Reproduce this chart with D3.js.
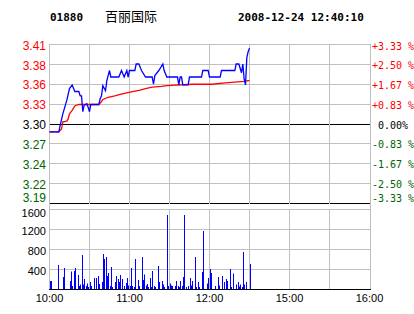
<!DOCTYPE html>
<html>
<head>
<meta charset="utf-8">
<script src="https://cdn.jsdelivr.net/npm/d3@7"></script>
<style>
  html, body { margin: 0; padding: 0; background: #fff; }
  svg { display: block; }
</style>
</head>
<body>
<div id="chart"></div>
<script>
// header
const stockCode = '01880';
const stockName = '百丽国际';
const stamp = '2008-12-24 12:40:10';

// axes
const prevClose = 3.30;
const priceHigh = 3.41;
const priceLow = 3.19;
const priceLabels = ['3.41', '3.38', '3.36', '3.33', '3.30', '3.27', '3.24', '3.22', '3.19'];
const pctLabels = ['+3.33 %', '+2.50 %', '+1.67 %', '+0.83 %', ' 0.00%', '-0.83 %', '-1.67 %', '-2.50 %', '-3.33 %'];
const volTicks = [1600, 1200, 800, 400];
const volMax = 1600;
const timeLabels = ['10:00', '11:00', '12:00', '15:00', '16:00'];

// price (blue)
const priceTimes = ['10:00', '10:07', '10:08', '10:10', '10:13', '10:15', '10:17', '10:19', '10:22', '10:23',
  '10:24', '10:25', '10:26', '10:28', '10:29', '10:30', '10:31', '10:37', '10:38', '10:39',
  '10:40', '10:42', '10:43', '10:45', '10:46', '10:52', '10:54', '10:56', '10:58', '10:59',
  '11:00', '11:04', '11:05', '11:07', '11:09', '11:12', '11:17', '11:18', '11:19', '11:22',
  '11:25', '11:26', '11:28', '11:36', '11:37', '11:38', '11:39', '11:40', '11:44', '11:45',
  '11:54', '11:55', '11:59', '12:00', '12:08', '12:09', '12:19', '12:20', '12:22', '12:24',
  '12:25', '12:26', '12:27', '12:28', '12:29', '12:30'];
const priceValues = [3.289, 3.289, 3.298, 3.314, 3.333, 3.349, 3.354, 3.345, 3.345, 3.339,
  3.339, 3.317, 3.326, 3.328, 3.323, 3.317, 3.327, 3.327, 3.335, 3.339,
  3.353, 3.346, 3.360, 3.374, 3.365, 3.365, 3.374, 3.365, 3.374, 3.365,
  3.374, 3.374, 3.383, 3.383, 3.374, 3.365, 3.365, 3.355, 3.367, 3.374,
  3.383, 3.374, 3.365, 3.365, 3.354, 3.365, 3.365, 3.354, 3.354, 3.365,
  3.365, 3.374, 3.374, 3.365, 3.365, 3.374, 3.374, 3.383, 3.383, 3.371,
  3.383, 3.362, 3.354, 3.392, 3.400, 3.405];

// average price (red)
const avgTimes = ['10:00', '10:07', '10:09', '10:10', '10:13', '10:14', '10:15', '10:17', '10:19', '10:22',
  '10:37', '10:39', '10:40', '10:44', '10:49', '10:53', '10:58', '11:03', '11:08', '11:12',
  '11:17', '11:24', '11:28', '11:47', '12:02', '12:12', '12:26', '12:29', '12:30'];
const avgValues = [3.289, 3.289, 3.293, 3.303, 3.304, 3.307, 3.314, 3.319, 3.325, 3.327,
  3.327, 3.331, 3.334, 3.337, 3.339, 3.341, 3.343, 3.345, 3.347, 3.349,
  3.351, 3.352, 3.353, 3.355, 3.355, 3.357, 3.359, 3.360, 3.360];

// volume
const volTimes = ['10:00', '10:01', '10:06', '10:10', '10:11', '10:15', '10:16', '10:17', '10:18', '10:19',
  '10:21', '10:22', '10:23', '10:24', '10:25', '10:26', '10:27', '10:28', '10:29', '10:30',
  '10:31', '10:33', '10:35', '10:36', '10:37', '10:39', '10:40', '10:41', '10:42', '10:43',
  '10:44', '10:45', '10:46', '10:47', '10:49', '10:50', '10:51', '10:52', '10:53', '10:54',
  '10:56', '10:57', '10:58', '10:59', '11:00', '11:01', '11:02', '11:03', '11:04', '11:06',
  '11:07', '11:09', '11:10', '11:11', '11:12', '11:13', '11:14', '11:15', '11:16', '11:17',
  '11:18', '11:19', '11:21', '11:22', '11:24', '11:25', '11:26', '11:28', '11:29', '11:30',
  '11:31', '11:32', '11:34', '11:35', '11:36', '11:37', '11:38', '11:39', '11:40', '11:41',
  '11:42', '11:44', '11:45', '11:46', '11:47', '11:49', '11:50', '11:51', '11:52', '11:54',
  '11:55', '11:58', '11:59', '12:00', '12:01', '12:04', '12:06', '12:07', '12:09', '12:11',
  '12:12', '12:13', '12:15', '12:16', '12:18', '12:20', '12:21', '12:22', '12:23', '12:24',
  '12:25', '12:26', '12:27', '12:30'];
const volValues = [170, 170, 490, 250, 430, 170, 360, 70, 370, 430,
  290, 70, 100, 690, 100, 210, 70, 120, 50, 150,
  70, 230, 230, 270, 110, 150, 710, 610, 650, 270,
  330, 70, 450, 50, 150, 270, 210, 150, 290, 210,
  70, 130, 230, 80, 70, 430, 70, 50, 610, 190,
  70, 650, 190, 300, 80, 110, 50, 230, 50, 370,
  70, 50, 470, 150, 170, 100, 50, 1490, 70, 120,
  80, 70, 70, 170, 70, 50, 170, 70, 250, 1490,
  50, 70, 230, 80, 170, 650, 50, 150, 50, 350,
  1170, 120, 230, 410, 330, 70, 250, 80, 270, 150,
  210, 170, 410, 50, 320, 100, 150, 60, 100, 50,
  750, 100, 150, 510];

const W = 414, H = 314;
const gridColor = '#c0c0c0';
const upColor = '#ff0000';
const downColor = '#006400';

// trading minutes: 10:00-12:30 and 14:30-16:00
function sessionMin(t) {
	const [h, m] = t.split(':').map(Number);
	const v = h * 60 + m - 600;
	return v > 150 ? v - 120 : v;
}

const svg = d3.select('#chart').append('svg')
	.attr('width', W)
	.attr('height', H)
	.style('background', '#fff');

const x = d3.scaleLinear().domain([0, 240]).range([49.5, 369.5]);
const yP = d3.scaleLinear().domain([priceLow, priceHigh]).range([203.5, 44.5]);
const yV = d3.scaleLinear().domain([0, volMax]).range([289.5, 209.5]);
const crisp = v => Math.floor(v) + 0.5;

// header
const head = svg.append('g');
head.append('text').attr('x', 50).attr('y', 21)
	.attr('font-family', 'DejaVu Sans Mono').attr('font-weight', 'bold').attr('font-size', 11)
	.text(stockCode);
head.append('text').attr('x', 105).attr('y', 21)
	.attr('font-family', '"Noto Sans CJK SC"').attr('font-size', 13)
	.text(stockName);
head.append('text').attr('x', 238).attr('y', 21)
	.attr('font-family', 'DejaVu Sans Mono').attr('font-weight', 'bold').attr('font-size', 11)
	.text(stamp);

// price grid
const levels = d3.range(priceLabels.length).map(i => priceHigh - i * (priceHigh - priceLow) / (priceLabels.length - 1));
const grid = svg.append('g');
grid.selectAll('line.hp')
	.data(levels)
	.join('line')
	.attr('class', 'hp')
	.attr('x1', 49).attr('x2', 371)
	.attr('y1', d => crisp(yP(d))).attr('y2', d => crisp(yP(d)))
	.attr('stroke', (d, i) => (i === 4 || i === levels.length - 1) ? '#000' : gridColor)
	.attr('stroke-width', 1);

// volume grid
grid.selectAll('line.hv')
	.data(volTicks)
	.join('line')
	.attr('class', 'hv')
	.attr('x1', 49).attr('x2', 371)
	.attr('y1', d => crisp(yV(d))).attr('y2', d => crisp(yV(d)))
	.attr('stroke', gridColor);

// vertical grid, both panels
const vMins = d3.range(30, 240, 30);
[[44, 204], [209, 289]].forEach(([a, b]) => {
	grid.append('g').selectAll('line')
		.data(vMins)
		.join('line')
		.attr('x1', d => crisp(x(d))).attr('x2', d => crisp(x(d)))
		.attr('y1', a).attr('y2', b)
		.attr('stroke', gridColor);
});

// frame
grid.append('line').attr('x1', 49.5).attr('x2', 49.5).attr('y1', 44).attr('y2', 289).attr('stroke', gridColor);
grid.append('line').attr('x1', 370.5).attr('x2', 370.5).attr('y1', 44).attr('y2', 289).attr('stroke', gridColor);
grid.append('line').attr('x1', 49).attr('x2', 371).attr('y1', crisp(yV(0))).attr('y2', crisp(yV(0))).attr('stroke', '#000');

// price labels
const labelColor = i => i < 4 ? upColor : (i === 4 ? '#000' : downColor);
const labelY = d => Math.max(46, Math.min(198, yP(d) + 1));
svg.append('g').selectAll('text')
	.data(levels)
	.join('text')
	.attr('x', 46)
	.attr('y', labelY)
	.attr('dy', '0.35em')
	.attr('text-anchor', 'end')
	.attr('font-family', '"Liberation Sans", Arial, sans-serif')
	.attr('font-size', 12)
	.attr('fill', (d, i) => labelColor(i))
	.text((d, i) => priceLabels[i]);

svg.append('g').selectAll('text')
	.data(levels)
	.join('text')
	.attr('x', 372)
	.attr('y', labelY)
	.attr('dy', '0.35em')
	.style('white-space', 'pre')
	.attr('font-family', '"DejaVu Sans Mono", monospace')
	.attr('font-size', 10)
	.attr('fill', (d, i) => labelColor(i))
	.text((d, i) => pctLabels[i]);

// volume labels
svg.append('g').selectAll('text')
	.data(volTicks)
	.join('text')
	.attr('x', 46)
	.attr('y', d => Math.max(213, yV(d) + 2))
	.attr('dy', '0.35em')
	.attr('text-anchor', 'end')
	.attr('font-family', '"Liberation Sans", Arial, sans-serif')
	.attr('font-size', 11)
	.attr('fill', '#000')
	.text(d => d);

// time labels
svg.append('g').selectAll('text')
	.data(timeLabels)
	.join('text')
	.attr('x', d => x(sessionMin(d)))
	.attr('y', 302)
	.attr('text-anchor', 'middle')
	.attr('font-family', '"Liberation Sans", Arial, sans-serif')
	.attr('font-size', 11)
	.attr('fill', '#000')
	.text(d => d);

// volume bars
svg.append('g').selectAll('rect')
	.data(volValues)
	.join('rect')
	.attr('x', (d, i) => Math.round(x(sessionMin(volTimes[i]))))
	.attr('width', 1)
	.attr('y', d => yV(d))
	.attr('height', d => yV(0) - 0.5 - yV(d))
	.attr('fill', '#0000ff');

// lines
const line = d3.line()
	.x(d => x(sessionMin(d[0])))
	.y(d => yP(d[1]));

svg.append('path')
	.datum(avgTimes.map((t, i) => [t, avgValues[i]]))
	.attr('d', line)
	.attr('fill', 'none')
	.attr('stroke', upColor)
	.attr('stroke-width', 1.3);

svg.append('path')
	.datum(priceTimes.map((t, i) => [t, priceValues[i]]))
	.attr('d', line)
	.attr('fill', 'none')
	.attr('stroke', '#0000ff')
	.attr('stroke-width', 1.3);
</script>
</body>
</html>
